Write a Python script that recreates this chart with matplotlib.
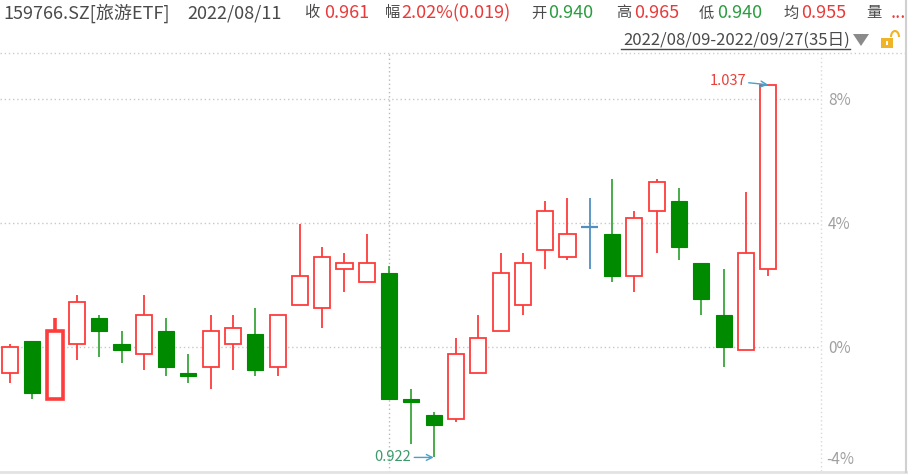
import matplotlib.pyplot as plt
from matplotlib.patches import Rectangle, Polygon, Arc
from matplotlib.lines import Line2D
import matplotlib.transforms as mtransforms

plt.rcParams['font.family'] = ['Noto Sans CJK SC', 'DejaVu Sans']

# daily candles 2022/08/09 - 2022/09/27 (35 days)
opens = [0.948, 0.958, 0.940, 0.957, 0.965, 0.957, 0.954, 0.961, 0.948, 0.950,
         0.957, 0.960, 0.950, 0.969, 0.968, 0.980, 0.976, 0.979, 0.940, 0.935,
         0.934, 0.948, 0.961, 0.969, 0.986, 0.984, 0.993, 0.991, 0.978, 0.998,
         1.001, 0.982, 0.966, 0.955, 0.980]
highs = [0.957, 0.958, 0.965, 0.972, 0.966, 0.961, 0.972, 0.965, 0.954, 0.966,
         0.966, 0.968, 0.966, 0.994, 0.987, 0.985, 0.991, 0.981, 0.943, 0.936,
         0.959, 0.966, 0.985, 0.985, 1.001, 1.002, 1.002, 1.008, 0.998, 1.008,
         1.005, 0.982, 0.980, 1.004, 1.037]
lows = [0.945, 0.940, 0.940, 0.952, 0.953, 0.951, 0.949, 0.947, 0.945, 0.943,
        0.949, 0.947, 0.947, 0.969, 0.962, 0.973, 0.976, 0.940, 0.926, 0.922,
        0.933, 0.948, 0.961, 0.966, 0.980, 0.983, 0.980, 0.976, 0.973, 0.985,
        0.983, 0.966, 0.950, 0.955, 0.978]
closes = [0.956, 0.942, 0.961, 0.970, 0.961, 0.955, 0.966, 0.950, 0.947, 0.961,
          0.962, 0.949, 0.966, 0.978, 0.984, 0.982, 0.982, 0.940, 0.939, 0.932,
          0.954, 0.959, 0.979, 0.982, 0.998, 0.991, 0.993, 0.978, 0.996, 1.007,
          0.987, 0.971, 0.956, 0.985, 1.037]

base = 0.9562
pct_ticks = [8, 4, 0]
selected = 2      # 2022/08/11
crosshair = 17
max_idx, min_idx = 34, 19

RED = '#ff3b3b'
GREEN = '#008a00'
GREEN_WICK = '#2a9e2a'
BLUE = '#5090c0'

W, H = 915, 475
fig = plt.figure(figsize=(W / 100, H / 100), dpi=100)
ax = fig.add_axes([0, 3 / H, 821 / W, 419 / H])


def fx(x):
    return x / W


def fy(y):
    return 1 - y / H


for i in range(len(opens)):
    o, h, l, c = opens[i], highs[i], lows[i], closes[i]
    lw = 2.6 if i == selected else 1.3
    if c > o:
        ax.vlines(i, l, h, color=RED, lw=lw, zorder=2)
        ax.add_patch(Rectangle((i - 0.36, o), 0.72, c - o, facecolor='white',
                               edgecolor=RED, lw=lw, zorder=3))
    elif c < o:
        ax.vlines(i, l, h, color=GREEN_WICK, lw=1.2, zorder=2)
        ax.add_patch(Rectangle((i - 0.36, c), 0.72, o - c, facecolor=GREEN,
                               edgecolor=GREEN, lw=0.8, zorder=3))
    else:
        ax.vlines(i, l, h, color=BLUE, lw=1.3, zorder=2)
        ax.hlines(o, i - 0.38, i + 0.38, color=BLUE, lw=1.6, zorder=3)

ax.set_xlim(-0.45, 36.37)
ax.set_ylim(0.9175, 1.0468)

for p in pct_ticks:
    ax.axhline(base * (1 + p / 100), color='#c8c8c8', ls=(0, (1, 2)), lw=1, zorder=0)
ax.axvline(crosshair, color='#b8b8b8', ls=(0, (1, 2)), lw=1, zorder=1)

for s in ax.spines.values():
    s.set_visible(False)
ax.set_xticks([])
ax.yaxis.tick_right()
ax.set_yticks([base * (1 + p / 100) for p in pct_ticks])
ax.set_yticklabels([f'{p}%' for p in pct_ticks])
ax.tick_params(axis='y', length=0, pad=5, labelsize=11, labelcolor='#a0a0a0')
trans = mtransforms.blended_transform_factory(ax.transAxes, ax.transData)
ax.annotate('-4%', xy=(1, base * 0.96), xycoords=trans, xytext=(4, 2),
            textcoords='offset points', ha='left', va='bottom',
            fontsize=11, color='#a0a0a0', annotation_clip=False)

# high / low markers
ax.annotate(f'{highs[max_idx]:.3f}', xy=(max_idx, highs[max_idx]),
            xytext=(-16, 3), textcoords='offset points', ha='right', va='center',
            fontsize=10.5, color='#e8413b',
            arrowprops=dict(arrowstyle='->', color='#4aa0c8', lw=1,
                            shrinkA=0, shrinkB=0))
ax.annotate(f'{lows[min_idx]:.3f}', xy=(min_idx, lows[min_idx]),
            xytext=(-16, 0), textcoords='offset points', ha='right', va='center',
            fontsize=10.5, color='#3a9a6a',
            arrowprops=dict(arrowstyle='->', color='#4aa0c8', lw=1,
                            shrinkA=0, shrinkB=0))

# frame lines
fig.add_artist(Line2D([0, fx(906)], [fy(53), fy(53)], color='#cccccc',
                      ls=(0, (1, 2)), lw=1))
fig.add_artist(Line2D([fx(821), fx(821)], [fy(53), fy(472)], color='#d8d8d8',
                      ls=(0, (1, 2)), lw=1))
fig.add_artist(Line2D([0, fx(906)], [fy(472), fy(472)], color='#e2e2e2', lw=2))
fig.add_artist(Line2D([fx(906), fx(906)], [fy(0), fy(472)], color='#d0d0d0', lw=1.5))

# header
DARK = '#4a4a4a'
HRED = '#e83a3a'
HGREEN = '#2a9d3f'
fig.text(fx(3), fy(13), '159766.SZ[旅游ETF]', fontsize=13, color=DARK, va='center')
fig.text(fx(187), fy(13), '2022/08/11', fontsize=13, color=DARK, va='center')
header = [
    (304, '收', 324, '0.961', HRED),
    (385, '幅', 401, '2.02%(0.019)', HRED),
    (531, '开', 548, '0.940', HGREEN),
    (616, '高', 634, '0.965', HRED),
    (699, '低', 717, '0.940', HGREEN),
    (783, '均', 801, '0.955', HRED),
    (866, '量', 891, '...', HRED),
]
for lx, lab, vx, val, col in header:
    fig.text(fx(lx), fy(13), lab, fontsize=11, color=DARK, va='center')
    fig.text(fx(vx), fy(13), val, fontsize=13, color=col, va='center')

fig.text(fx(850), fy(40), '2022/08/09-2022/09/27(35日)', fontsize=12,
         color=DARK, ha='right', va='center')
fig.add_artist(Line2D([fx(621), fx(850)], [fy(49), fy(49)], color=DARK, lw=1))
fig.add_artist(Polygon([[fx(853), fy(34)], [fx(869), fy(34)], [fx(861), fy(46)]],
                       closed=True, facecolor='#8a8a8a', edgecolor='none'))
fig.add_artist(Rectangle((fx(881), fy(48)), 12 / W, 10 / H, facecolor='#f0b429',
                         edgecolor='none'))
fig.add_artist(Rectangle((fx(886), fy(45)), 2 / W, 4 / H, facecolor='white',
                         edgecolor='none'))
fig.add_artist(Arc((fx(895), fy(37)), 8 / W, 12 / H, theta1=0, theta2=180,
                   color='#f0b429', lw=1.5))

fig.savefig('out.png', dpi=100)
